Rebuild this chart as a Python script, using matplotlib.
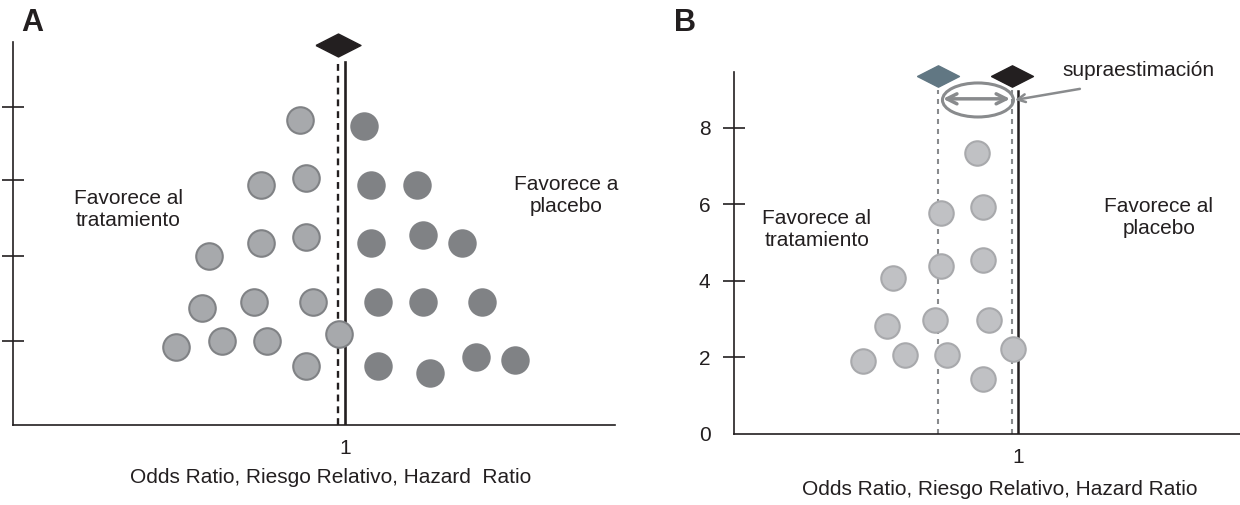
import matplotlib
matplotlib.use('Agg')
import matplotlib.pyplot as plt
from matplotlib.patches import Ellipse

plt.rcParams['font.family'] = ['Liberation Sans', 'DejaVu Sans']

ink = '#231f20'
grey = '#898b8d'

# panel A: symmetric funnel
a_trat_x = [0.863, 0.746, 0.881, 0.590, 0.746, 0.881, 0.569, 0.725, 0.902,
            0.491, 0.629, 0.764, 0.980, 0.881]
a_trat_y = [7.96, 6.27, 6.45, 4.41, 4.75, 4.91, 3.05, 3.21, 3.21,
            2.04, 2.19, 2.19, 2.38, 1.54]
a_plac_x = [1.057, 1.078, 1.216, 1.078, 1.234, 1.351, 1.099, 1.234, 1.411,
            1.099, 1.255, 1.393, 1.508]
a_plac_y = [7.81, 6.27, 6.27, 4.75, 4.96, 4.75, 3.21, 3.21, 3.21,
            1.54, 1.36, 1.78, 1.70]
a_yticks = [2.2, 4.4, 6.4, 8.3]
a_pooled = 0.977

# panel B: asymmetric funnel (publication bias)
b_x = [0.454, 0.602, 0.750, 0.982, 0.877, 0.539, 0.708, 0.898, 0.560,
       0.729, 0.877, 0.729, 0.877, 0.856]
b_y = [1.91, 2.06, 2.06, 2.22, 1.44, 2.82, 2.98, 2.98, 4.07,
       4.39, 4.54, 5.77, 5.93, 7.34]
b_yticks = [0, 2, 4, 6, 8]
b_pooled = 0.718
b_true = 0.979

xlabel = 'Odds Ratio, Riesgo Relativo, Hazard Ratio'


def style(ax):
    for s in ['top', 'right']:
        ax.spines[s].set_visible(False)
    for s in ['left', 'bottom']:
        ax.spines[s].set_color(ink)
        ax.spines[s].set_linewidth(1.2)


def diamond(ax, x, y, color, size):
    verts = [(-1, 0), (0, 0.51), (1, 0), (0, -0.51), (-1, 0)]
    ax.plot([x], [y], marker=verts, ms=size, color=color, ls='none',
            clip_on=False, zorder=4)


fig = plt.figure(figsize=(12.4, 5.05), dpi=100)

# ---- A
axA = fig.add_axes([0.0102, 0.1584, 0.4858, 0.7584])
style(axA)
axA.set_xlim(0, 1.81)
axA.set_ylim(0, 10)
axA.set_xticks([1])
axA.set_xticklabels(['1'])
axA.tick_params(axis='x', length=0, pad=10, labelsize=15, colors=ink)
axA.set_yticks(a_yticks)
axA.set_yticklabels([])
axA.tick_params(axis='y', direction='inout', length=16, width=1.2, color=ink)

axA.plot([a_pooled, a_pooled], [0, 9.45], color=ink, lw=1.7, ls=(0, (2.9, 2.1)))
axA.plot([1, 1], [0, 9.48], color=ink, lw=1.9)
diamond(axA, a_pooled, 9.91, ink, 32.4)

axA.scatter(a_trat_x, a_trat_y, s=365, facecolor='#a7a9ac', edgecolor='#808285',
            linewidth=1.5, zorder=3, clip_on=False)
axA.scatter(a_plac_x, a_plac_y, s=420, color='#808285', linewidth=0, zorder=3,
            clip_on=False)

axA.text(0.348, 5.64, 'Favorece al\ntratamiento', ha='center', va='center',
         fontsize=15, color=ink)
axA.text(1.663, 5.98, 'Favorece a\nplacebo', ha='center', va='center',
         fontsize=15, color=ink)
axA.set_xlabel('Odds Ratio, Riesgo Relativo, Hazard  Ratio', fontsize=15, color=ink)
axA.xaxis.set_label_coords(0.528, -0.112)

# ---- B
axB = fig.add_axes([0.592, 0.1406, 0.408, 0.7168])
style(axB)
axB.set_xlim(0, 1.782)
axB.set_ylim(0, 9.45)
axB.set_xticks([1])
axB.set_xticklabels(['1'])
axB.tick_params(axis='x', length=0, pad=10, labelsize=15, colors=ink)
axB.set_yticks(b_yticks)
axB.set_yticklabels([str(v) for v in b_yticks])
axB.tick_params(axis='y', direction='inout', length=16, width=1.2, color=ink,
                pad=9, labelsize=15, labelcolor=ink)
axB.yaxis.get_major_ticks()[0].tick1line.set_visible(False)

for xv in [b_pooled, b_true]:
    axB.plot([xv, xv], [0, 8.98], color=grey, lw=1.5, ls=(0, (2.4, 2.4)))
axB.plot([1, 1], [0, 8.96], color=ink, lw=1.8)
diamond(axB, b_pooled, 9.35, '#617783', 30.2)
diamond(axB, b_true, 9.35, ink, 30.2)

axB.scatter(b_x, b_y, s=310, facecolor='#c0c1c4', edgecolor='#a8a9ac',
            linewidth=1.5, zorder=3, clip_on=False)

axB.add_patch(Ellipse((0.859, 8.72), 0.25, 0.888, fill=False, edgecolor=grey,
                      lw=2.2, clip_on=False))
axB.annotate('', xy=(0.972, 8.75), xytext=(0.736, 8.75),
             arrowprops=dict(arrowstyle='<->', color=grey, lw=2.5, shrinkA=0,
                             shrinkB=0, mutation_scale=18))
axB.annotate('', xy=(0.989, 8.72), xytext=(1.218, 9.01),
             arrowprops=dict(arrowstyle='->', color=grey, lw=1.8, shrinkA=0,
                             shrinkB=0, mutation_scale=14))
axB.text(1.155, 9.48, 'supraestimación', ha='left', va='center', fontsize=15,
         color=ink)

axB.text(0.292, 5.34, 'Favorece al\ntratamiento', ha='center', va='center',
         fontsize=15, color=ink)
axB.text(1.496, 5.65, 'Favorece al\nplacebo', ha='center', va='center',
         fontsize=15, color=ink)
axB.set_xlabel(xlabel, fontsize=15, color=ink)
axB.xaxis.set_label_coords(0.526, -0.127)

fig.text(32 / 1240, 1 - 23 / 505, 'A', fontsize=22, fontweight='bold',
         ha='center', va='center', color=ink)
fig.text(685 / 1240, 1 - 23 / 505, 'B', fontsize=22, fontweight='bold',
         ha='center', va='center', color=ink)

fig.savefig('out.png', dpi=100)
